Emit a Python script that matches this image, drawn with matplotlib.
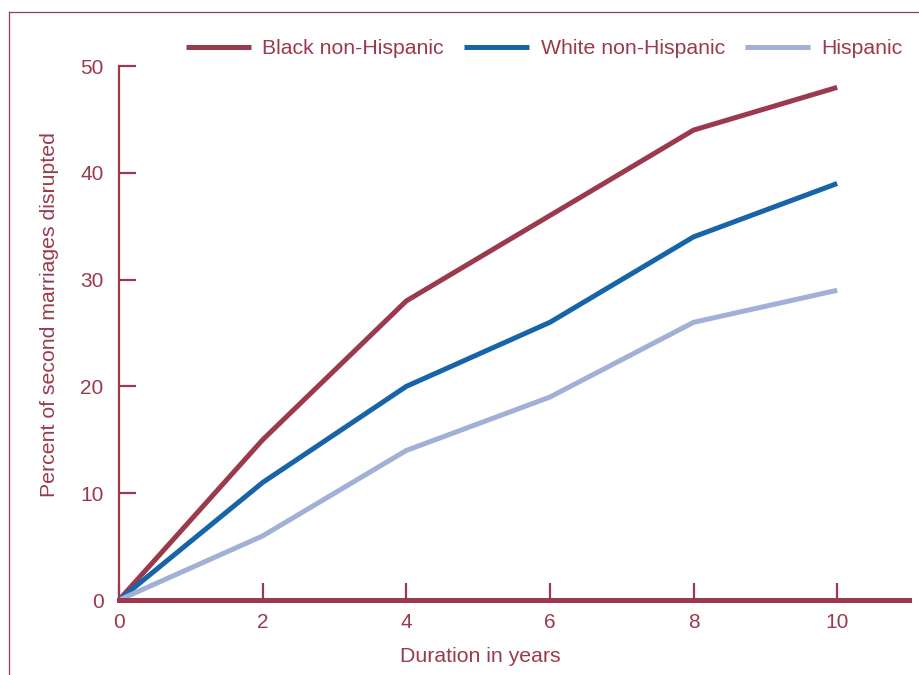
import matplotlib
matplotlib.use("Agg")
import matplotlib.pyplot as plt
from matplotlib.lines import Line2D

plt.rcParams['font.family'] = ['Liberation Sans', 'DejaVu Sans']

# data
years = [0, 2, 4, 6, 8, 10]
black = [0, 15, 28, 36, 44, 48]
white = [0, 11, 20, 26, 34, 39]
hispanic = [0, 6, 14, 19, 26, 29]
series_names = ['Black non-Hispanic', 'White non-Hispanic', 'Hispanic']

maroon = '#9b3a4d'
blue = '#1764a9'
light = '#a2b0d8'

fig = plt.figure(figsize=(9.2, 6.75), dpi=100)
ax = fig.add_axes([119 / 920, 1 - 600 / 675, (909 - 119) / 920, (600 - 66) / 675])

for vals, col, name in zip([black, white, hispanic], [maroon, blue, light], series_names):
    ax.plot(years, vals, color=col, lw=3.6, label=name, solid_capstyle='butt')

ax.set_xlim(0, 11)
ax.set_ylim(0, 50)
ax.set_xticks([0, 2, 4, 6, 8, 10])
ax.set_yticks([0, 10, 20, 30, 40, 50])

for s in ['top', 'right']:
    ax.spines[s].set_visible(False)
ax.spines['left'].set_color(maroon)
ax.spines['left'].set_linewidth(1.6)
ax.spines['bottom'].set_color(maroon)
ax.spines['bottom'].set_linewidth(3.6)
ax.spines['bottom'].set_zorder(3)

ax.tick_params(axis='y', direction='in', length=12, width=1.6, color=maroon,
               labelcolor=maroon, labelsize=15, pad=11)
ax.tick_params(axis='x', direction='in', length=12, width=1.6, color=maroon,
               labelcolor=maroon, labelsize=15, pad=9)

fig.text(50 / 920, 1 - 315 / 675, 'Percent of second marriages disrupted', rotation=90,
         ha='center', va='center', color=maroon, fontsize=15.3)
fig.text(480 / 920, 1 - 656 / 675, 'Duration in years', ha='center', va='center',
         color=maroon, fontsize=15.3)

leg = ax.legend(loc='center right', bbox_to_anchor=(903 / 920, 1 - 49 / 675),
                bbox_transform=fig.transFigure, ncol=3, frameon=False, fontsize=15.3,
                handlelength=3.05, handletextpad=0.55, columnspacing=0.95,
                borderpad=0, borderaxespad=0)
for t in leg.get_texts():
    t.set_color(maroon)

# thin frame at top and left
fig.add_artist(Line2D([9 / 920, 1], [1 - 12 / 675, 1 - 12 / 675], color=maroon, lw=0.9,
                      transform=fig.transFigure))
fig.add_artist(Line2D([9 / 920, 9 / 920], [0, 1 - 12 / 675], color=maroon, lw=0.9,
                      transform=fig.transFigure))

fig.savefig('out.png', dpi=100)
